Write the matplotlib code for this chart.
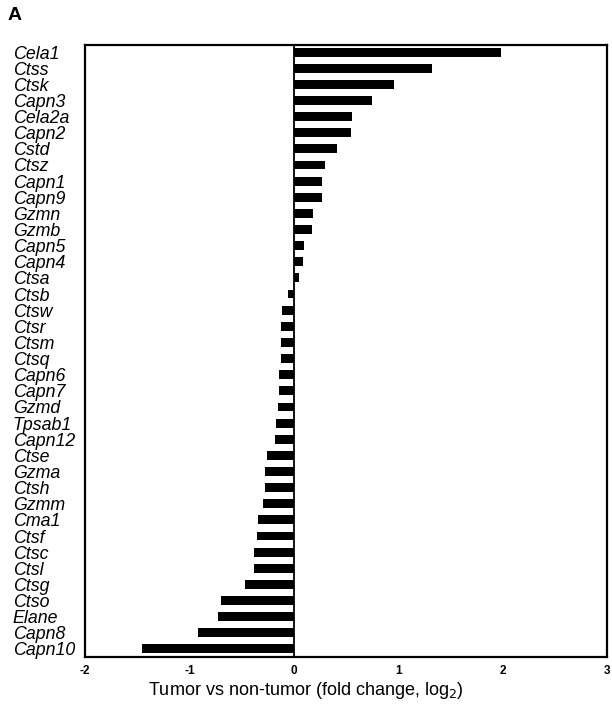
import matplotlib
matplotlib.use("Agg")
import matplotlib.pyplot as plt
import numpy as np

plt.rcParams['font.family'] = ['Liberation Sans', 'DejaVu Sans']

genes = ["Cela1", "Ctss", "Ctsk", "Capn3", "Cela2a", "Capn2", "Cstd", "Ctsz",
         "Capn1", "Capn9", "Gzmn", "Gzmb", "Capn5", "Capn4", "Ctsa", "Ctsb",
         "Ctsw", "Ctsr", "Ctsm", "Ctsq", "Capn6", "Capn7", "Gzmd", "Tpsab1",
         "Capn12", "Ctse", "Gzma", "Ctsh", "Gzmm", "Cma1", "Ctsf", "Ctsc",
         "Ctsl", "Ctsg", "Ctso", "Elane", "Capn8", "Capn10"]
log2fc = [1.98, 1.32, 0.96, 0.75, 0.56, 0.55, 0.41, 0.30,
          0.27, 0.27, 0.18, 0.17, 0.10, 0.09, 0.05, -0.06,
          -0.11, -0.12, -0.12, -0.12, -0.14, -0.14, -0.15, -0.17,
          -0.18, -0.26, -0.28, -0.28, -0.30, -0.34, -0.35, -0.38,
          -0.38, -0.47, -0.70, -0.73, -0.92, -1.45]
xticks = [-2, -1, 0, 1, 2, 3]

fig = plt.figure(figsize=(6.12, 7.16), dpi=100)
ax = fig.add_axes([0.139, 0.0824, 0.853, 0.855])

pos = np.arange(len(genes))
ax.barh(pos, log2fc, height=0.55, color="black")
ax.axvline(0, color="black", lw=1.3)

ax.set_xlim(-2, 3)
ax.set_ylim(37.5, -0.45)
ax.set_xticks(xticks)
ax.set_xticklabels([str(t) for t in xticks], fontsize=8.5, fontweight="bold")
ax.set_yticks(pos)
ax.set_yticklabels(genes, fontsize=12.8, style="italic", ha="left")
ax.tick_params(axis="y", length=0, pad=52)
ax.tick_params(axis="x", length=0, pad=6)
for sp in ax.spines.values():
    sp.set_linewidth(1.6)

fig.text(0.5, 0.035, "Tumor vs non-tumor (fold change, log$_2$)", fontsize=13,
         ha="center", va="center")
fig.text(0.012, 0.99, "A", fontsize=14, fontweight="bold", va="top")

fig.savefig("out.png", dpi=100)
